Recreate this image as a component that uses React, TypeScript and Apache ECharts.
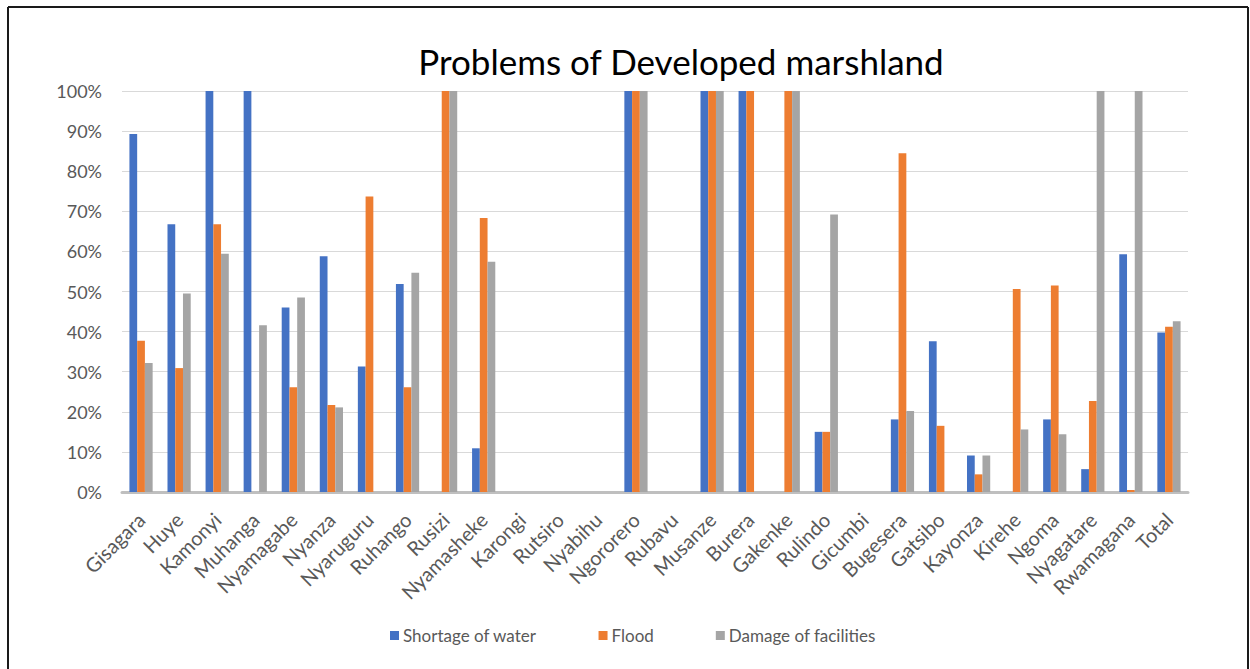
import React, { useEffect, useRef } from "react";
import * as echarts from "echarts";

const categories = [
  "Gisagara", "Huye", "Kamonyi", "Muhanga", "Nyamagabe", "Nyanza", "Nyaruguru", "Ruhango",
  "Rusizi", "Nyamasheke", "Karongi", "Rutsiro", "Nyabihu", "Ngororero", "Rubavu", "Musanze",
  "Burera", "Gakenke", "Rulindo", "Gicumbi", "Bugesera", "Gatsibo", "Kayonza", "Kirehe",
  "Ngoma", "Nyagatare", "Rwamagana", "Total",
];
const shortageOfWater = [89.3, 66.8, 100, 100, 46, 58.8, 31.3, 51.9, 0, 10.9, 0, 0, 0, 100, 0, 100, 100, 0, 15, 0, 18.1, 37.6, 9.1, 0, 18.1, 5.7, 59.3, 39.8];
const flood = [37.7, 30.9, 66.8, 0, 26.1, 21.7, 73.7, 26.1, 100, 68.3, 0, 0, 0, 100, 0, 100, 100, 100, 15, 0, 84.5, 16.5, 4.4, 50.6, 51.5, 22.7, 0.5, 41.2];
const damageOfFacilities = [32.2, 49.5, 59.4, 41.6, 48.5, 21.1, 0, 54.7, 100, 57.4, 0, 0, 0, 100, 0, 100, 0, 100, 69.2, 0, 20.2, 0, 9.1, 15.6, 14.4, 100, 100, 42.6];
const yTicks = [0, 10, 20, 30, 40, 50, 60, 70, 80, 90, 100];

export default function App() {
  const ref = useRef<HTMLDivElement>(null);
  useEffect(() => {
    if (!ref.current) return;
    const chart = echarts.init(ref.current, null, { renderer: "svg" });
    const font = "Lato, 'Open Sans', sans-serif";
    chart.setOption({
      animation: false,
      backgroundColor: "#ffffff",
      textStyle: { fontFamily: font },
      title: {
        text: "Problems of Developed marshland",
        left: 676,
        top: 38,
        textAlign: "center",
        textStyle: { fontFamily: font, fontSize: 35, fontWeight: "normal", color: "#000000" },
      },
      legend: {
        bottom: 20,
        left: 385,
        itemWidth: 9,
        itemHeight: 9,
        itemGap: 62,
        icon: "rect",
        textStyle: { fontFamily: font, fontSize: 17, color: "#595959", padding: [0, 0, 0, -1] },
        data: ["Shortage of water", "Flood", "Damage of facilities"],
      },
      grid: { left: 122, right: 62, top: 91, bottom: 177, containLabel: false },
      xAxis: {
        type: "category",
        data: categories,
        axisLine: { lineStyle: { color: "#BFBFBF", width: 3 } },
        axisTick: { show: false },
        axisLabel: { rotate: 45, fontSize: 20, color: "#595959", fontFamily: font, margin: 24, interval: 0 },
      },
      yAxis: {
        type: "value",
        min: yTicks[0],
        max: yTicks[yTicks.length - 1],
        interval: 10,
        axisLine: { show: false },
        axisTick: { show: false },
        splitLine: { lineStyle: { color: "#D9D9D9", width: 1 } },
        axisLabel: { formatter: "{value}%", fontSize: 18, color: "#595959", fontFamily: font, margin: 20 },
      },
      series: [
        { name: "Shortage of water", type: "bar", data: shortageOfWater, itemStyle: { color: "#4472C4" }, barGap: "0%", barCategoryGap: "39%" },
        { name: "Flood", type: "bar", data: flood, itemStyle: { color: "#ED7D31" }, barGap: "0%", barCategoryGap: "39%" },
        { name: "Damage of facilities", type: "bar", data: damageOfFacilities, itemStyle: { color: "#A5A5A5" }, barGap: "0%", barCategoryGap: "39%" },
      ],
      graphic: [
        { type: "line", shape: { x1: 8, y1: 7, x2: 1248, y2: 7 }, style: { stroke: "#1a1a1a", lineWidth: 2 } },
        { type: "line", shape: { x1: 8, y1: 7, x2: 8, y2: 669 }, style: { stroke: "#1a1a1a", lineWidth: 2 } },
        { type: "line", shape: { x1: 1248, y1: 7, x2: 1248, y2: 669 }, style: { stroke: "#1a1a1a", lineWidth: 2 } },
      ],
    });
    return () => chart.dispose();
  }, []);
  return <div ref={ref} style={{ position: "absolute", left: 0, top: 0, width: 1250, height: 669 }} />;
}
